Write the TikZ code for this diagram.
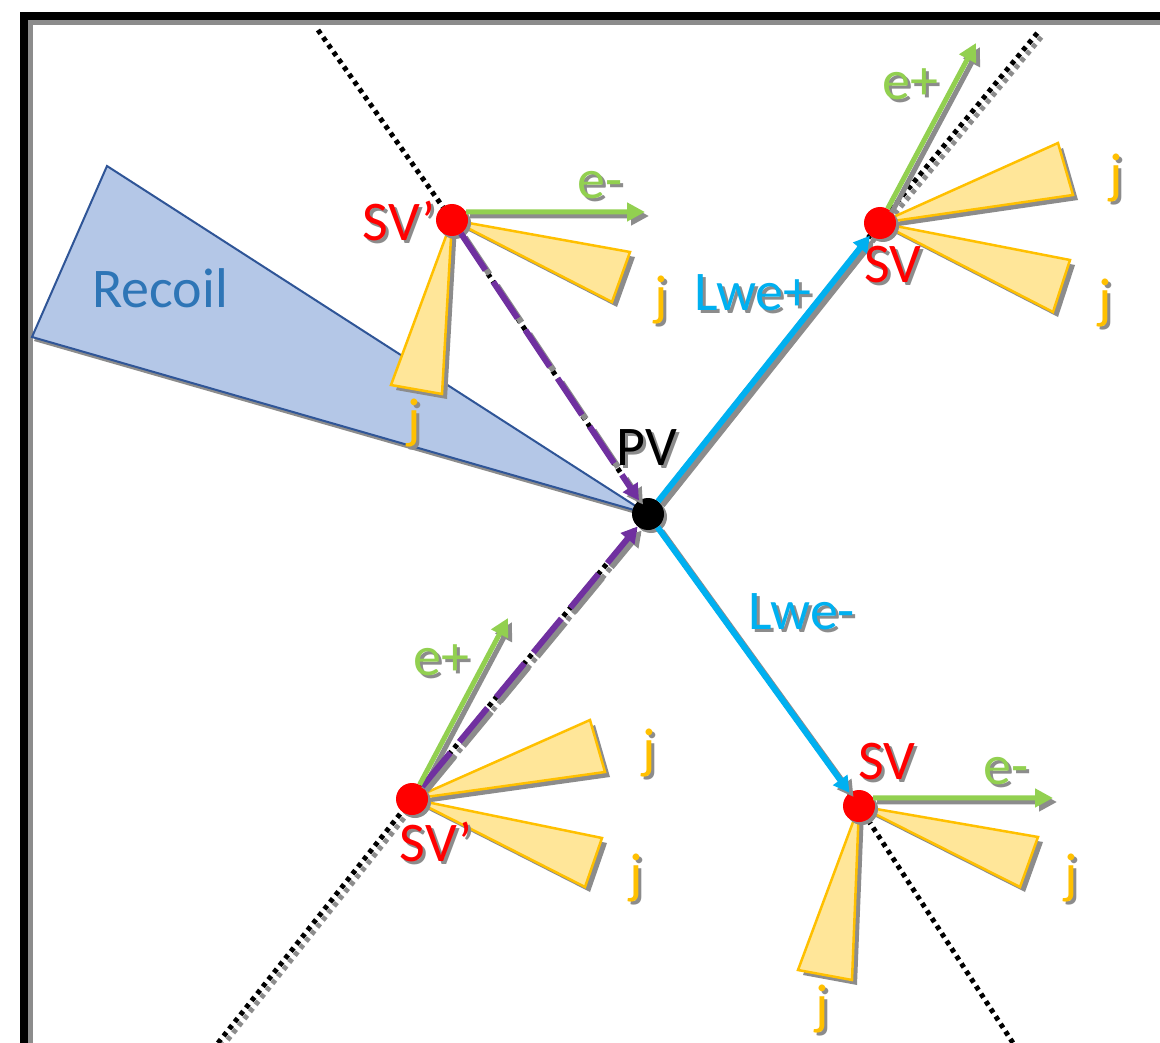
\documentclass[tikz,border=0pt]{standalone}
\usepackage{fontspec}
\setmainfont{Carlito}
\usetikzlibrary{arrows.meta}
\definecolor{cblue}{HTML}{00B0F0}
\definecolor{cgreen}{HTML}{92D050}
\definecolor{cpurple}{HTML}{7030A0}
\definecolor{cjetfill}{HTML}{FFE699}
\definecolor{cjetline}{HTML}{FFC000}
\definecolor{crecfill}{HTML}{B4C7E7}
\definecolor{crecline}{HTML}{2F5597}
\definecolor{crectext}{HTML}{2E75B6}
\definecolor{cshadow}{HTML}{8C8C8C}
\newcommand\jetdraw[3]{%
  \fill[cshadow] ([shift={(5,5)}]#1) -- ([shift={(5,5)}]#2) -- ([shift={(5,5)}]#3) -- cycle;
  \draw[jet] (#1) -- (#2) -- (#3) -- cycle;}
\newcommand\shtxt[2]{\rlap{\kern3pt\raisebox{-3pt}{\textcolor{cshadow}{#2}}}\textcolor{#1}{#2}}
\newcommand\shlabel[5]{%
  \node[lbl] (#1) at (#2,#3) {\shtxt{#4}{#5}};}
\begin{document}
\begin{tikzpicture}[x=1pt,y=-1pt,
  lbl/.style={font=\fontsize{56}{64}\selectfont, inner sep=0pt, anchor=center},
  vtx/.style={circle, minimum size=32pt, inner sep=0pt},
  jet/.style={fill=cjetfill, draw=cjetline, line width=2.5pt, line join=miter},
  dotl/.style={line width=5pt, dash pattern=on 4.5pt off 4.5pt},
  shd/.style={draw=cshadow, transform canvas={xshift=4pt,yshift=-4pt}},
  bluearr/.style={draw=cblue, line width=6pt, -{Triangle[length=16pt,width=17pt]}},
  greenarr/.style={draw=cgreen, line width=5pt, -{Triangle[length=18pt,width=18pt]}},
  purplearr/.style={draw=cpurple, line width=6pt, dash pattern=on 44pt off 14pt, -{Triangle[length=16pt,width=17pt]}}
]
\useasboundingbox (0,0) rectangle (1160,1043);
\fill[white] (0,0) rectangle (1160,1043);
% frame
\draw[line width=8pt] (24,1043) -- (24,16) -- (1160,16);
\draw[line width=5pt, cshadow] (30.5,1043) -- (30.5,22.5) -- (1160,22.5);

% vertex positions
\coordinate (cPV) at (648,514);
\coordinate (cSVa) at (452,220);
\coordinate (cSVb) at (880,223);
\coordinate (cSVc) at (412,799);
\coordinate (cSVd) at (859,806);
\coordinate (dA1) at (318,30);
\coordinate (dA2) at (1013,1043);
\coordinate (dB1) at (218,1043);
\coordinate (dB2) at (1039,31);
\coordinate (eA) at (645,212);
\coordinate (eB) at (976,43);
\coordinate (eC) at (508,618);
\coordinate (eD) at (1053,798);

% recoil
\fill[cshadow] (109,169) -- (650,518) -- (34,341) -- cycle;
\draw[fill=crecfill, draw=crecline, line width=2pt, line join=miter] (107,166) -- (cPV) -- (32,337) -- cycle;
\node[font=\fontsize{56}{64}\selectfont, text=crectext, inner sep=0pt] (trec) at (160,288) {Recoil};

% dotted lines
\draw[dotl, shd] (dB1) -- (cSVc) -- (cPV) -- (cSVb) -- (dB2);
\draw[dotl] (dB1) -- (cSVc) -- (cPV) -- (cSVb) -- (dB2);
\draw[dotl] (dA1) -- (cSVa) -- (cPV) -- (cSVd) -- (dA2);

% jets
\jetdraw{cSVa}{630,252}{612,302}
\jetdraw{cSVa}{391,385}{442,394}
\jetdraw{cSVb}{1058,143}{1073,195}
\jetdraw{cSVb}{1070,260}{1053,312}
\jetdraw{cSVc}{590,720}{605,772}
\jetdraw{cSVc}{602,838}{585,887}
\jetdraw{cSVd}{1038,837}{1020,887}
\jetdraw{cSVd}{798,970}{852,980}

% vertices
\fill[cshadow] ([shift={(3,3)}]cPV) circle (16);
\fill[cshadow] ([shift={(3,3)}]cSVa) circle (16);
\fill[cshadow] ([shift={(3,3)}]cSVb) circle (16);
\fill[cshadow] ([shift={(3,3)}]cSVc) circle (16);
\fill[cshadow] ([shift={(3,3)}]cSVd) circle (16);
\node[vtx, fill=black] (PV) at (cPV) {};
\node[vtx, fill=red] (SVa) at (cSVa) {};
\node[vtx, fill=red] (SVb) at (cSVb) {};
\node[vtx, fill=red] (SVc) at (cSVc) {};
\node[vtx, fill=red] (SVd) at (cSVd) {};

% arrows: shadows
\draw[bluearr, shd] (PV) -- (SVb);
\draw[bluearr, shd] (PV) -- (SVd);
\draw[purplearr, shd] (SVa) -- (PV);
\draw[purplearr, shd] (SVc) -- (PV);
\draw[greenarr, shd] (SVa.30) -- (eA);
\draw[greenarr, shd] (SVb) -- (eB);
\draw[greenarr, shd] (SVc) -- (eC);
\draw[greenarr, shd] (SVd.30) -- (eD);
% arrows
\draw[bluearr] (PV) -- (SVb);
\draw[bluearr] (PV) -- (SVd);
\draw[purplearr] (SVa) -- (PV);
\draw[purplearr] (SVc) -- (PV);
\draw[greenarr] (SVa.30) -- (eA);
\draw[greenarr] (SVb) -- (eB);
\draw[greenarr] (SVc) -- (eC);
\draw[greenarr] (SVd.30) -- (eD);

% labels
\shlabel{tSVa}{399}{222}{red}{SV’}
\shlabel{tSVb}{893}{266}{red}{SV}
\shlabel{tSVc}{436}{843}{red}{SV’}
\shlabel{tSVd}{887}{763}{red}{SV}
\shlabel{tPV}{647}{449}{black}{PV}
\shlabel{tLp}{753}{294}{cblue}{Lwe+}
\shlabel{tLm}{802}{613}{cblue}{Lwe-}
\shlabel{teA}{600}{187}{cgreen}{e-}
\shlabel{teB}{910}{86}{cgreen}{e+}
\shlabel{teC}{441}{662}{cgreen}{e+}
\shlabel{teD}{1006}{773}{cgreen}{e-}
\shlabel{tj1}{661}{302}{cjetline}{j}
\shlabel{tj2}{414}{425}{cjetline}{j}
\shlabel{tj3}{1116}{180}{cjetline}{j}
\shlabel{tj4}{1105}{305}{cjetline}{j}
\shlabel{tj5}{649}{755}{cjetline}{j}
\shlabel{tj6}{636}{880}{cjetline}{j}
\shlabel{tj7}{1071}{880}{cjetline}{j}
\shlabel{tj8}{822}{1011}{cjetline}{j}
\end{tikzpicture}
\end{document}
